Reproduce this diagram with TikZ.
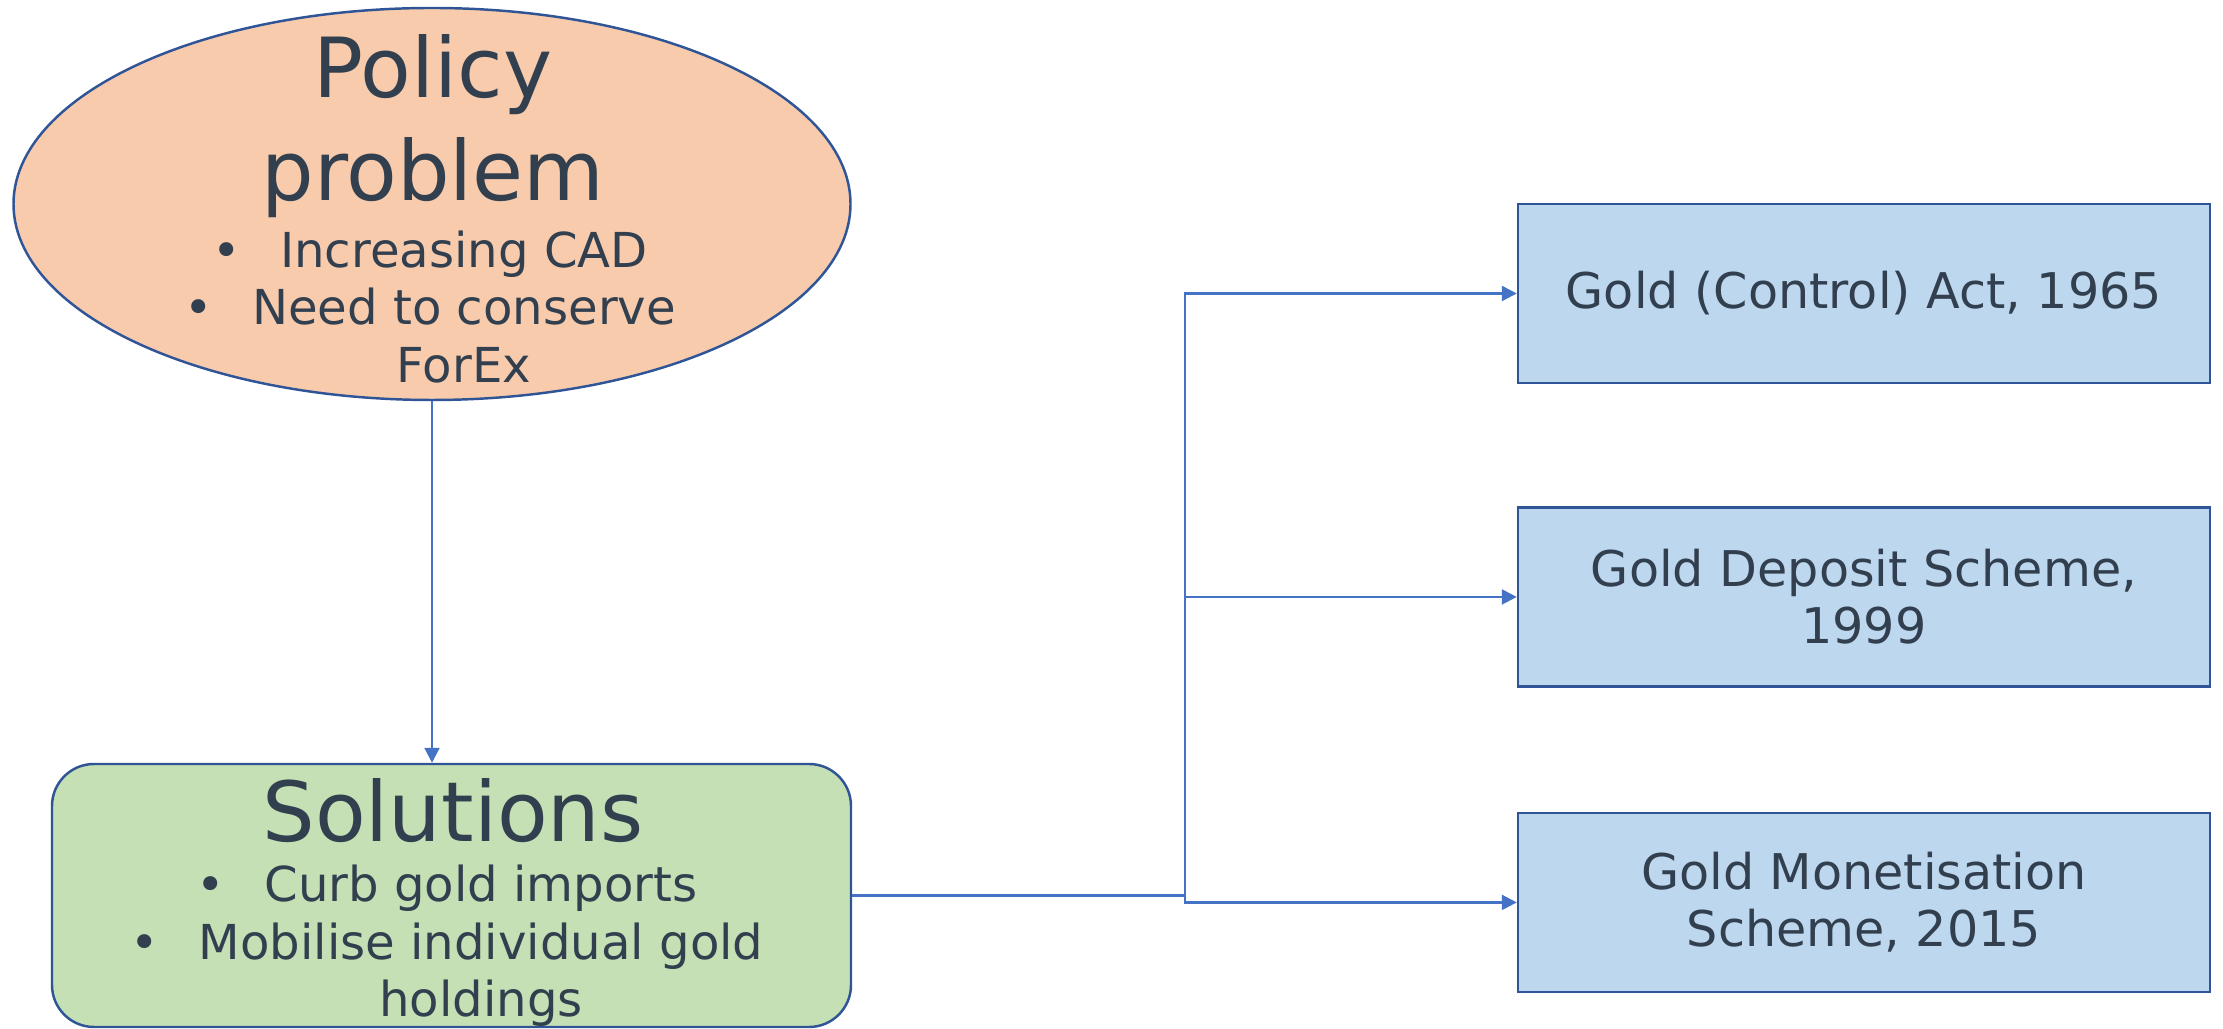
\documentclass[tikz,border=0pt]{standalone}
\usepackage{fontspec}
\setmainfont{DejaVu Sans}
\usetikzlibrary{arrows.meta,shapes.geometric,positioning}
\definecolor{inkblue}{HTML}{323F4F}
\definecolor{peach}{HTML}{F8CBAD}
\definecolor{sage}{HTML}{C5E0B4}
\definecolor{sky}{HTML}{BDD7EE}
\definecolor{rim}{HTML}{2F5597}
\definecolor{wire}{HTML}{4472C4}
\newcommand{\bigtext}{\fontsize{23.6}{29.3}\selectfont}
\newcommand{\smalltext}{\fontsize{13.7}{16.4}\selectfont}
\newcommand{\boxtext}{\fontsize{14}{16.3}\selectfont}
\newcommand{\point}{\makebox[0.68cm][l]{\textbullet}}
\newcommand{\carry}{\hspace*{0.68cm}}
\tikzset{
	issue/.style={
		ellipse,
		draw=rim,
		fill=peach,
		line width=0.7pt,
		minimum width=8.37cm,
		minimum height=3.92cm,
	},
	solution/.style={
		rectangle,
		rounded corners=0.42cm,
		draw=rim,
		fill=sage,
		line width=0.7pt,
		minimum width=7.99cm,
		minimum height=2.63cm,
	},
	scheme/.style={
		rectangle,
		draw=rim,
		fill=sky,
		line width=0.7pt,
		minimum width=6.92cm,
		minimum height=1.79cm,
		align=center,
		font=\boxtext,
		text=inkblue,
	},
	heading/.style={inner sep=0pt, align=center, font=\bigtext, text=inkblue},
	points/.style={inner sep=0pt, align=center, font=\smalltext, text=inkblue},
	link/.style={->, draw=wire, line width=0.65pt},
}
\begin{document}
\begin{tikzpicture}[node distance=1.22cm, >={Triangle[length=1.5mm,width=1.5mm]}]
		\useasboundingbox (0,0) rectangle (22.23,-10.29);
		\node [issue] (problem) at (4.32,-2.04) {};
		\node [solution] (sol) at (4.515,-8.955) {};
		
		\node [scheme] (act) at (18.64,-2.935) {Gold (Control) Act, 1965};
		\node [scheme] (deposit) [below=of act] {Gold Deposit Scheme,\\1999};
		\node [scheme] (monet) [below=1.24cm of deposit] {Gold Monetisation\\Scheme, 2015};
		
		\node [heading] (problemtitle) at (4.33,-1.26) {Policy\\problem};
		\node [points] (problemlist) at (4.30,-3.07) {\point Increasing CAD\\\point Need to conserve\\\carry ForEx};
		\node [heading, anchor=base] (soltitle) at (4.53,-8.42) {Solutions};
		\node [points] (sollist) at (4.47,-9.46) {\point Curb gold imports\\\point Mobilise individual gold\\\carry holdings};
		
		\coordinate [right=3.33cm of sol.east] (fork);
		
		\draw[link] (problem.south) -- (problem.south |- sol.north);
		\draw[link] (sol.east) -| (fork) |- (act.west);
		\draw[link] (sol.east) -| (fork) |- (deposit.west);
		\draw[link] (sol.east) -| (fork) |- (monet.west);
	\end{tikzpicture}
\end{document}
